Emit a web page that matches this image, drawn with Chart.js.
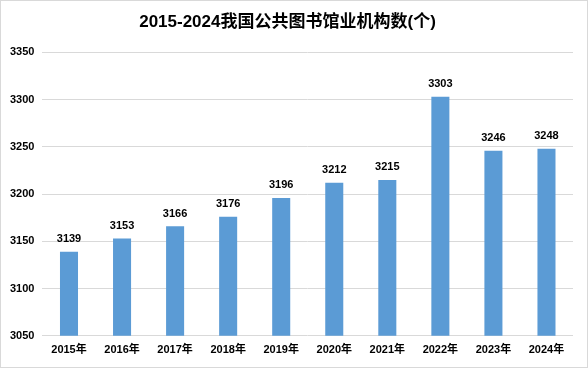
<!DOCTYPE html>
<html>
<head>
<meta charset="utf-8">
<script src="https://cdn.jsdelivr.net/npm/chart.js@4.4.0/dist/chart.umd.min.js"></script>
<style>
  html, body { margin: 0; padding: 0; background: #fff; }
  #box { width: 586px; height: 366px; border: 1px solid #d9d9d9; }
</style>
</head>
<body>
<div id="box"><canvas id="myChart" width="586" height="366"></canvas></div>
<script>
var years = ['2015年', '2016年', '2017年', '2018年', '2019年', '2020年', '2021年', '2022年', '2023年', '2024年'];
var counts = [3139, 3153, 3166, 3176, 3196, 3212, 3215, 3303, 3246, 3248];
var yTicks = [3050, 3100, 3150, 3200, 3250, 3300, 3350];

var fontFam = '"Liberation Sans", "Noto Sans CJK SC", sans-serif';

// draw the value over each bar
var barLabels = {
    id: 'barLabels',
    afterDatasetsDraw: function(chart) {
        var ctx = chart.ctx;
        var meta = chart.getDatasetMeta(0);
        ctx.save();
        ctx.font = 'bold 11px ' + fontFam;
        ctx.fillStyle = '#000';
        ctx.textAlign = 'center';
        ctx.textBaseline = 'bottom';
        meta.data.forEach(function(bar, i) {
            ctx.fillText(counts[i], bar.x, bar.y - 7);
        });
        ctx.restore();
    }
};

var ctx = document.getElementById('myChart').getContext('2d');
var myChart = new Chart(ctx, {
    type: 'bar',
    data: {
        labels: years,
        datasets: [{
            data: counts,
            backgroundColor: '#5b9bd5',
            barPercentage: 0.68,
            categoryPercentage: 0.5
        }]
    },
    options: {
        responsive: false,
        animation: false,
        layout: { padding: { left: 1, right: 14, top: 0, bottom: 10 } },
        plugins: {
            legend: { display: false },
            tooltip: { enabled: false },
            title: {
                display: true,
                text: '2015-2024我国公共图书馆业机构数(个)',
                color: '#000',
                font: { family: fontFam, size: 17, weight: 'bold' },
                padding: { top: 11, bottom: 20 }
            }
        },
        scales: {
            y: {
                min: 3050,
                max: 3350,
                afterBuildTicks: function(axis) {
                    axis.ticks = yTicks.map(function(v) { return { value: v }; });
                },
                grid: { color: '#d9d9d9', drawTicks: false },
                border: { display: false },
                ticks: {
                    color: '#000',
                    padding: 8,
                    font: { family: fontFam, size: 11, weight: 'bold' },
                    callback: function(v) { return String(v); }
                }
            },
            x: {
                grid: { display: false },
                border: { display: false },
                ticks: {
                    color: '#000',
                    padding: 0,
                    font: { family: fontFam, size: 11, weight: 'bold' }
                }
            }
        }
    },
    plugins: [barLabels]
});
</script>
</body>
</html>
